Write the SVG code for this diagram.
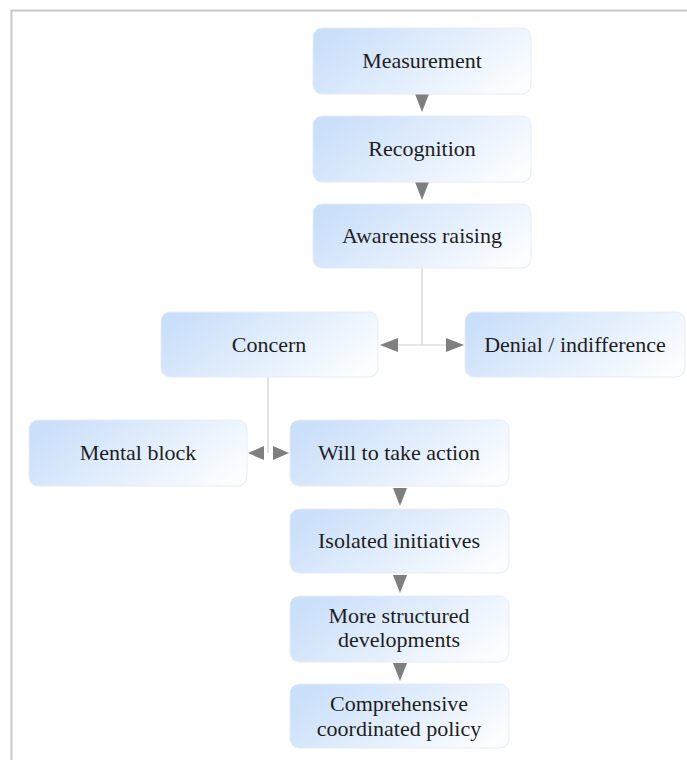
<svg xmlns="http://www.w3.org/2000/svg" width="687" height="760" viewBox="0 0 687 760">
<defs>
<linearGradient id="g" x1="0" y1="0.3" x2="1" y2="0.7">
<stop offset="0" stop-color="#cadffa"/>
<stop offset="0.55" stop-color="#e4effc"/>
<stop offset="1" stop-color="#fbfdff"/>
</linearGradient>
<marker id="ah" viewBox="0 0 18 14" refX="18" refY="7" markerWidth="18" markerHeight="14" markerUnits="userSpaceOnUse" orient="auto">
<path d="M0,0 L18,7 L0,14 Z" fill="#7f7f7f"/>
</marker>
<marker id="ahs" viewBox="0 0 16 14" refX="16" refY="7" markerWidth="16" markerHeight="14" markerUnits="userSpaceOnUse" orient="auto">
<path d="M0,0 L16,7 L0,14 Z" fill="#7f7f7f"/>
</marker>
</defs>
<style>
.box{fill:url(#g);stroke:#e6edf6;stroke-width:1}
.t{font-family:"Liberation Serif","Times New Roman",serif;font-size:22px;fill:#1e1e1e;text-anchor:middle}
.ln{stroke:#cfcfcf;stroke-width:1.2;fill:none}
.ar{stroke:none;fill:none}
</style>
<rect width="687" height="760" fill="#ffffff"/>
<path d="M11.5,760 V10.5 H687" fill="none" stroke="#c8c8c8" stroke-width="2"/>
<g id="connectors">
<line class="ln" x1="422" y1="268" x2="422" y2="345"/>
<line class="ln" x1="398" y1="345" x2="446" y2="345"/>
<line class="ln" x1="268" y1="377" x2="268" y2="453"/>
<path d="M422,96 L422,112" class="ar" marker-end="url(#ah)"/>
<path d="M422,184 L422,200" class="ar" marker-end="url(#ah)"/>
<path d="M420,345 L380,345" class="ar" marker-end="url(#ah)"/>
<path d="M424,345 L464,345" class="ar" marker-end="url(#ah)"/>
<path d="M266,453 L248,453" class="ar" marker-end="url(#ahs)"/>
<path d="M270,453 L289,453" class="ar" marker-end="url(#ahs)"/>
<path d="M400,489 L400,506" class="ar" marker-end="url(#ah)"/>
<path d="M400,576 L400,593" class="ar" marker-end="url(#ah)"/>
<path d="M400,664 L400,681" class="ar" marker-end="url(#ah)"/>
</g>
<g id="measurement"><rect class="box" x="313" y="28" width="218" height="66" rx="9"/><text class="t" x="422" y="68">Measurement</text></g>
<g id="recognition"><rect class="box" x="313" y="116" width="218" height="66" rx="9"/><text class="t" x="422" y="156">Recognition</text></g>
<g id="awareness"><rect class="box" x="313" y="204" width="218" height="64" rx="9"/><text class="t" x="422" y="243">Awareness raising</text></g>
<g id="concern"><rect class="box" x="161" y="312" width="217" height="65" rx="9"/><text class="t" x="269" y="352">Concern</text></g>
<g id="denial"><rect class="box" x="465" y="312" width="220" height="65" rx="9"/><text class="t" x="575" y="352">Denial / indifference</text></g>
<g id="mental-block"><rect class="box" x="29" y="420" width="218" height="66" rx="9"/><text class="t" x="138" y="460">Mental block</text></g>
<g id="will"><rect class="box" x="290" y="420" width="219" height="66" rx="9"/><text class="t" x="399" y="460">Will to take action</text></g>
<g id="isolated"><rect class="box" x="290" y="509" width="219" height="64" rx="9"/><text class="t" x="399" y="548">Isolated initiatives</text></g>
<g id="structured"><rect class="box" x="290" y="596" width="219" height="66" rx="9"/><text class="t" x="399" y="623">More structured</text><text class="t" x="399" y="647">developments</text></g>
<g id="comprehensive"><rect class="box" x="290" y="684" width="219" height="64" rx="9"/><text class="t" x="399" y="711">Comprehensive</text><text class="t" x="399" y="736">coordinated policy</text></g>
</svg>
